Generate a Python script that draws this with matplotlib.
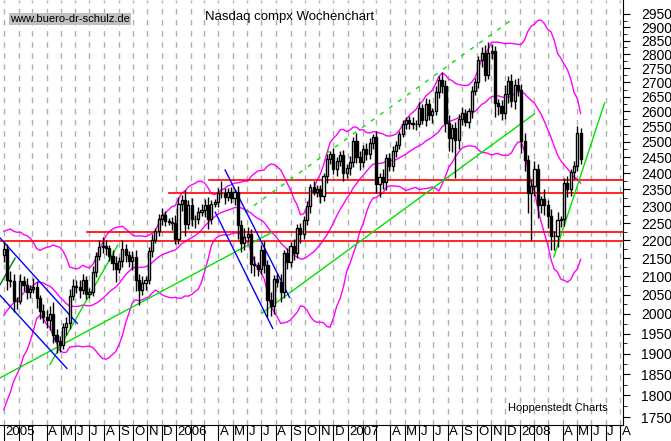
import numpy as np
import pandas as pd
import matplotlib
matplotlib.use('Agg')
import matplotlib.pyplot as plt
import matplotlib.transforms as mtrans
from matplotlib import font_manager

narrow = 'Liberation Sans Narrow'
try:
    font_manager.findfont(narrow, fallback_to_default=False)
except Exception:
    narrow = 'Liberation Sans'
plt.rcParams['font.family'] = ['Liberation Sans', 'DejaVu Sans']

# weekly closes Aug 2004 - Dec 24 2004, only used to seed the Bollinger bands
history = [1777, 1757, 1838, 1862, 1844, 1894, 1910, 1879, 1942, 1919, 1911,
           1915, 1975, 2038, 2085, 2070, 2101, 2147, 2128, 2136, 2154]

first_open = 2160
closes = [
    2175,
    # 2005
    2089, 2087, 2034, 2035, 2086, 2076, 2058, 2065, 2071, 2041, 2007, 1991, 1985,
    2000, 1946, 1932, 1921, 1967, 1977, 2046, 2075, 2071, 2063, 2090, 2053, 2057,
    2112, 2156, 2180, 2185, 2178, 2157, 2136, 2120, 2141, 2176, 2160, 2141, 2152,
    2090, 2064, 2082, 2090, 2169, 2202, 2227, 2263, 2273, 2256, 2253, 2250, 2205,
    # 2006
    2306, 2317, 2247, 2304, 2262, 2261, 2282, 2287, 2302, 2262, 2306, 2312, 2340,
    2339, 2326, 2342, 2323, 2342, 2243, 2193, 2210, 2219, 2135, 2130, 2121, 2172,
    2130, 2037, 2021, 2094, 2085, 2057, 2163, 2140, 2183, 2165, 2236, 2218, 2258,
    2299, 2357, 2342, 2350, 2330, 2390, 2445, 2460, 2413, 2437, 2457, 2401, 2415,
    # 2007
    2434, 2502, 2451, 2435, 2475, 2460, 2496, 2515, 2368, 2387, 2372, 2448, 2422,
    2471, 2491, 2526, 2557, 2572, 2562, 2558, 2557, 2613, 2573, 2626, 2588, 2603,
    2666, 2707, 2688, 2562, 2511, 2544, 2505, 2576, 2596, 2566, 2602, 2671, 2701,
    2780, 2805, 2725, 2804, 2811, 2627, 2619, 2596, 2660, 2706, 2635, 2691, 2674,
    # 2008
    2504, 2441, 2340, 2360, 2414, 2304, 2321, 2303, 2271, 2212, 2212, 2258, 2261,
    2370, 2351, 2403, 2423, 2530, 2445,
]
wick_up = [
    20,
    15, 25, 20, 10, 20, 15, 20, 12, 25, 15, 10, 18, 20,
    22, 30, 15, 12, 10, 15, 20, 18, 15, 20, 15, 10, 12,
    15, 12, 20, 25, 15, 10, 15, 20, 12, 25, 15, 10, 18,
    20, 15, 18, 10, 12, 15, 10, 15, 20, 12, 10, 15, 25,
    20, 15, 30, 15, 20, 12, 15, 18, 20, 25, 12, 10, 15,
    35, 15, 12, 15, 10, 20, 15, 25, 20, 15, 20, 10, 15,
    25, 15, 20, 10, 15, 20, 10, 15, 12, 20, 10, 15, 12,
    15, 10, 20, 15, 15, 12, 15, 10, 20, 15, 12, 15, 15,
    20, 15, 25, 20, 15, 20, 15, 10, 20, 15, 25, 12, 15,
    15, 12, 10, 15, 10, 12, 20, 15, 18, 12, 20, 15, 10,
    20, 15, 30, 20, 25, 15, 20, 15, 20, 12, 10, 15, 15,
    15, 20, 30, 40, 25, 20, 15, 20, 30, 15, 25, 20, 25,
    20, 25, 15, 20, 25, 15, 10, 30, 15, 20, 15, 25, 10,
    15, 20, 10, 15, 20, 15,
]
wick_dn = [
    20,
    25, 15, 30, 20, 10, 15, 20, 15, 10, 25, 20, 15, 20,
    25, 20, 30, 17, 10, 20, 15, 10, 15, 20, 10, 15, 10,
    10, 15, 10, 15, 20, 15, 20, 35, 10, 15, 20, 15, 25,
    30, 40, 15, 20, 10, 15, 10, 15, 20, 15, 10, 20, 15,
    15, 20, 35, 15, 20, 25, 15, 10, 20, 30, 15, 10, 15,
    15, 20, 10, 15, 20, 40, 25, 20, 15, 25, 30, 20, 15,
    20, 45, 25, 20, 15, 25, 15, 20, 15, 20, 15, 25, 15,
    15, 20, 10, 15, 20, 15, 20, 15, 15, 20, 15, 25, 15,
    20, 15, 20, 25, 15, 20, 15, 20, 30, 40, 20, 25, 15,
    15, 20, 15, 10, 15, 20, 15, 20, 10, 15, 20, 15, 25,
    15, 20, 25, 30, 40, 45, 120, 30, 20, 15, 20, 25, 15,
    20, 25, 20, 15, 20, 45, 30, 25, 20, 30, 20, 25, 20,
    40, 35, 60, 140, 30, 40, 25, 30, 35, 40, 40, 30, 20,
    20, 25, 20, 20, 15, 15,
]

# trend lines (date, price)
green_solid = [
    (('2004-12-23', 1841), ('2006-07-23', 2223)),
    (('2006-07-02', 2002), ('2008-02-01', 2592)),
    (('2005-04-08', 1873), ('2005-08-30', 2186)),
    (('2008-03-13', 2153), ('2008-06-29', 2629)),
]
green_dashed = (('2006-05-27', 2282), ('2007-12-20', 2935))
darkgreen = (('2004-12-23', 2077), ('2005-01-24', 2150))
blue_lines = [
    (('2004-12-23', 2207), ('2005-06-05', 1976)),
    (('2004-12-23', 2049), ('2005-05-14', 1864)),
    (('2006-04-15', 2410), ('2006-08-30', 2043)),
    (('2006-03-25', 2282), ('2006-07-25', 1963)),
]
hlines = [(2380, '2006-03-11'), (2340, '2005-12-16'), (2225, '2005-06-26'), (2198, '2004-12-23')]
yticks = list(range(1750, 2951, 50))

dates = pd.date_range('2004-12-31', periods=len(closes), freq='W-FRI')
c = np.array(closes, float)
o = np.concatenate([[first_open], c[:-1]])
hi = np.maximum(o, c) + np.array(wick_up)
lo = np.minimum(o, c) - np.array(wick_dn)

allc = pd.Series(history + closes, dtype=float)
mid = allc.rolling(20).mean()
sd = allc.rolling(20).std(ddof=0)
n0 = len(history)
mid, up, dn = mid[n0:].values, (mid + 2 * sd)[n0:].values, (mid - 2 * sd)[n0:].values

fig = plt.figure(figsize=(6.71, 4.41), dpi=100)
ax = fig.add_axes([0, 16 / 441, 623 / 671, 425 / 441])
ax.set_yscale('log')
ax.set_ylim(1732, 3004)
xl, xr = pd.Timestamp('2004-12-23'), pd.Timestamp('2008-08-07')
ax.set_xlim(xl, xr)

# month grid
months = pd.date_range('2005-01-01', '2008-08-01', freq='MS')
for m in months:
    ax.axvline(m, color='#b0b0b0', lw=1, ls=(0, (4, 4)), zorder=0)

ax.plot(dates, up, color='magenta', lw=1)
ax.plot(dates, mid, color='magenta', lw=1)
ax.plot(dates, dn, color='magenta', lw=1)

for p, start in hlines:
    ax.plot([pd.Timestamp(start), xr], [p, p], color='red', lw=1.2)

def seg(s, **kw):
    (d1, p1), (d2, p2) = s
    ax.plot([pd.Timestamp(d1), pd.Timestamp(d2)], [p1, p2], **kw)

for s in green_solid:
    seg(s, color='#00e000', lw=1)
seg(green_dashed, color='#00e000', lw=1, ls=(0, (3, 5)))
seg(darkgreen, color='#008000', lw=1)
for s in blue_lines:
    seg(s, color='blue', lw=1)

ax.vlines(dates, lo, hi, color='black', lw=1, zorder=3)
bw = pd.Timedelta(days=4.5)
upb = c >= o
ax.bar(dates[upb], (c - o)[upb], bottom=o[upb], width=bw, color='white', edgecolor='black', lw=1, zorder=4)
ax.bar(dates[~upb], (o - c)[~upb], bottom=c[~upb], width=bw, color='black', edgecolor='black', lw=1, zorder=4)

for s in ['left', 'top']:
    ax.spines[s].set_visible(False)
ax.yaxis.tick_right()
ax.set_yticks(yticks)
ax.set_yticklabels([str(t) for t in yticks], fontsize=10, family=narrow)
ax.yaxis.set_minor_locator(matplotlib.ticker.FixedLocator(range(1775, 2951, 50)))
ax.yaxis.set_minor_formatter(matplotlib.ticker.NullFormatter())
ax.tick_params(axis='y', which='major', length=5, pad=8)
ax.tick_params(axis='y', which='minor', length=3)

ax.set_xticks(months)
ax.set_xticklabels([])
ax.tick_params(axis='x', length=16, direction='out')
trans = mtrans.blended_transform_factory(ax.transData, ax.transAxes)
names = {1: None, 2: '', 3: '', 4: 'A', 5: 'M', 6: 'J', 7: 'J', 8: 'A', 9: 'S', 10: 'O', 11: 'N', 12: 'D'}
for m in months:
    lab = str(m.year) if m.month == 1 else names[m.month]
    if lab:
        ax.text(m + pd.Timedelta(days=3), -0.003, lab, transform=trans, fontsize=9.5,
                family=narrow, va='top', ha='left')

fig.text(290 / 671, 1 - 17 / 441, 'Nasdaq compx Wochenchart', fontsize=9.5, ha='center', va='center')
fig.text(10 / 671, 1 - 19 / 441, 'www.buero-dr-schulz.de', fontsize=8, ha='left', va='center',
         bbox=dict(facecolor='#c0c0c0', edgecolor='none', pad=1))
fig.text(508 / 671, 1 - 408 / 441, 'Hoppenstedt Charts', fontsize=8, ha='left', va='center')

fig.savefig('out.png', dpi=100)
